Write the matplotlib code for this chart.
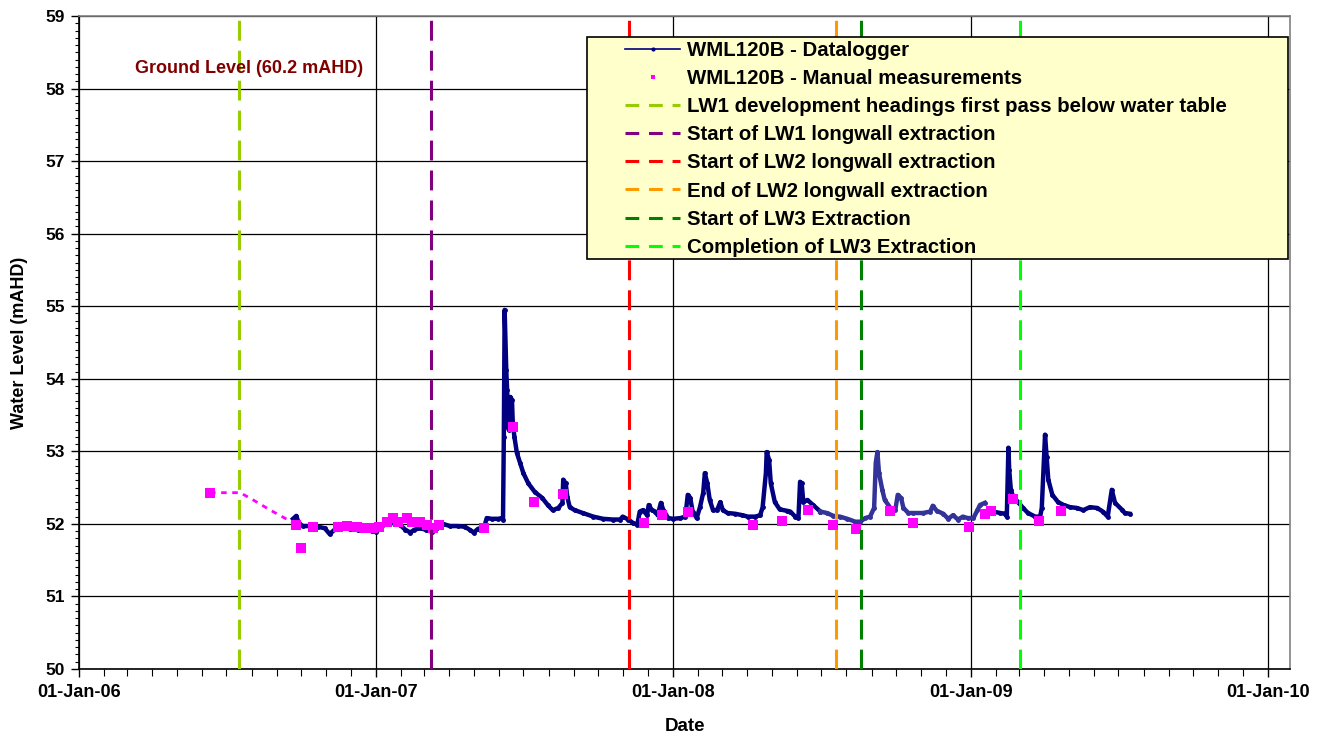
import numpy as np
import pandas as pd
import matplotlib
matplotlib.use('Agg')
import matplotlib.pyplot as plt
import matplotlib.dates as mdates
import matplotlib.ticker as mticker
from matplotlib.lines import Line2D
from matplotlib.patches import Rectangle

plt.rcParams['font.family'] = ['Liberation Sans', 'DejaVu Sans']
plt.rcParams['font.weight'] = 'bold'

BASE = pd.Timestamp('2006-01-01')

# Datalogger series: day offset from 01-Jan-2006, water level (mAHD)
logger_day = [263, 267, 270, 275, 284, 294, 302, 308, 315, 323, 333, 343, 351, 360, 365, 370,
              376, 382, 388, 394, 401, 407, 412, 419, 426, 434, 440, 447, 456, 466, 474, 480,
              485, 490, 498, 501, 507, 515, 520, 521, 522, 523, 525, 526, 528, 530, 532, 533,
              535, 538, 542, 546, 552, 560, 569, 576, 582, 589, 594, 595, 598, 600, 603, 609,
              619, 632, 644, 656, 665, 668, 675, 681, 686, 689, 693, 698, 700, 704, 708, 711,
              715, 718, 724, 730, 739, 745, 748, 751, 754, 759, 763, 767, 769, 772, 775, 779,
              784, 788, 791, 797, 806, 815, 822, 831, 837, 840, 844, 845, 848, 850, 855, 861,
              870, 874, 880, 884, 886, 888, 890, 895, 902, 911, 919, 927, 935, 944, 954, 960,
              966, 972, 977, 979, 981, 983, 987, 990, 997, 1003, 1006, 1010, 1013, 1019, 1025,
              1037, 1046, 1049, 1054, 1062, 1068, 1074, 1080, 1086, 1092, 1099, 1104, 1107, 1113,
              1116, 1123, 1132, 1138, 1140, 1142, 1143, 1145, 1148, 1154, 1160, 1166, 1175, 1181,
              1183, 1187, 1189, 1191, 1196, 1203, 1210, 1218, 1226, 1234, 1242, 1251, 1258, 1264,
              1269, 1273, 1282, 1285, 1291]
logger_level = [52.07, 52.11, 52.01, 51.97, 51.97, 51.96, 51.94, 51.86, 51.93, 51.94, 51.93, 51.92,
                51.92, 51.90, 51.89, 51.93, 52.00, 52.03, 52.00, 51.99, 51.92, 51.88, 51.92, 51.94,
                51.92, 51.89, 51.94, 52.00, 51.97, 51.97, 51.96, 51.92, 51.88, 51.93, 51.96, 52.08,
                52.07, 52.07, 52.08, 52.06, 53.20, 54.95, 54.12, 53.85, 53.30, 53.75, 53.71, 53.39,
                53.20, 52.98, 52.84, 52.70, 52.56, 52.44, 52.36, 52.26, 52.19, 52.22, 52.29, 52.61,
                52.56, 52.37, 52.23, 52.19, 52.15, 52.10, 52.07, 52.06, 52.06, 52.10, 52.06, 52.01,
                51.99, 52.17, 52.19, 52.12, 52.26, 52.19, 52.17, 52.12, 52.29, 52.19, 52.08, 52.07,
                52.08, 52.10, 52.40, 52.36, 52.17, 52.08, 52.23, 52.43, 52.70, 52.56, 52.33, 52.19,
                52.19, 52.30, 52.19, 52.15, 52.14, 52.12, 52.10, 52.10, 52.12, 52.23, 52.70, 52.99,
                52.88, 52.56, 52.30, 52.20, 52.18, 52.17, 52.10, 52.08, 52.58, 52.56, 52.30, 52.33,
                52.26, 52.17, 52.15, 52.11, 52.10, 52.07, 52.03, 52.03, 52.08, 52.10, 52.22, 52.84,
                52.99, 52.70, 52.47, 52.33, 52.22, 52.19, 52.40, 52.36, 52.22, 52.15, 52.15, 52.15,
                52.17, 52.25, 52.18, 52.14, 52.07, 52.12, 52.06, 52.10, 52.08, 52.08, 52.19, 52.26,
                52.29, 52.14, 52.17, 52.15, 52.14, 52.10, 53.05, 52.74, 52.47, 52.37, 52.30, 52.22,
                52.15, 52.10, 52.10, 52.22, 53.23, 52.92, 52.61, 52.40, 52.30, 52.26, 52.23, 52.22,
                52.19, 52.23, 52.22, 52.17, 52.10, 52.47, 52.29, 52.19, 52.15, 52.14]
# portion of the logger record drawn in the lighter blue
light_start_day = 911
light_end_day = 1113

# Manual measurements
manual_day = [161, 267, 273, 288, 318, 329, 342, 351, 361, 369, 378, 386, 392, 403, 409, 419,
              428, 435, 442, 498, 533, 559, 595, 694, 716, 748, 828, 864, 896, 927, 955, 997,
              1025, 1094, 1113, 1121, 1148, 1180, 1207]
manual_level = [52.43, 51.99, 51.67, 51.96, 51.96, 51.97, 51.96, 51.94, 51.94, 51.96, 52.03, 52.08,
                52.03, 52.08, 52.03, 52.03, 51.99, 51.94, 51.99, 51.94, 53.34, 52.30, 52.41, 52.01,
                52.12, 52.17, 51.99, 52.04, 52.19, 51.99, 51.93, 52.18, 52.01, 51.96, 52.14, 52.18,
                52.34, 52.04, 52.18]
# dotted connector of the early manual readings
trend_day = [161, 198, 214, 235, 256, 267]
trend_level = [52.43, 52.43, 52.33, 52.19, 52.06, 51.99]

# Event lines
event_labels = ['LW1 development headings first pass below water table',
                'Start of LW1 longwall extraction',
                'Start of LW2 longwall extraction',
                'End of LW2 longwall extraction',
                'Start of LW3 Extraction',
                'Completion of LW3 Extraction']
event_dates = ['2006-07-17', '2007-03-10', '2007-11-08', '2008-07-19', '2008-08-19', '2009-03-02']
event_colors = ['#99CC00', '#800080', '#FF0000', '#FF9900', '#008000', '#00FF00']

year_ticks = ['2006-01-01', '2007-01-01', '2008-01-01', '2009-01-01', '2010-01-01']

# ---------------------------------------------------------------
fig = plt.figure(figsize=(13.25, 7.36), dpi=100)
ax = fig.add_axes([79 / 1325, 1 - 669 / 736, (1290 - 79) / 1325, (669 - 16) / 736])

ld = BASE + pd.to_timedelta(np.array(logger_day), unit='D')
lv = np.array(logger_level)
days = np.array(logger_day)
m_dark1 = days <= light_start_day
m_light = (days >= light_start_day) & (days <= light_end_day)
m_dark2 = days > light_end_day

navy = '#000080'
for m, c in [(m_dark1, navy), (m_light, '#333399'), (m_dark2, navy)]:
    ax.plot(ld[m], lv[m], color=c, lw=3.2, marker='o', ms=2.5, zorder=3, solid_joinstyle='round')

td = BASE + pd.to_timedelta(np.array(trend_day), unit='D')
ax.plot(td, trend_level, color='#FF00FF', lw=2, linestyle=(0, (2, 2)), zorder=3)

md = BASE + pd.to_timedelta(np.array(manual_day), unit='D')
ax.plot(md, manual_level, linestyle='none', marker='s', ms=7.5, color='#FF00FF',
        markeredgewidth=0, zorder=4)

for d, c in zip(event_dates, event_colors):
    ax.axvline(pd.Timestamp(d), color=c, lw=2.2, linestyle=(0, (6.5, 3.3)), zorder=5)

# axes
ax.set_ylim(50, 59)
ax.set_xlim(pd.Timestamp('2006-01-01'), pd.Timestamp('2010-01-28'))
ax.set_yticks(np.arange(50, 60, 1))
ax.yaxis.set_minor_locator(mticker.MultipleLocator(0.1))
ax.set_xticks([pd.Timestamp(t) for t in year_ticks])
ax.xaxis.set_major_formatter(mdates.DateFormatter('%d-%b-%y'))
ax.xaxis.set_minor_locator(mdates.MonthLocator())
ax.grid(True, which='major', color='black', lw=0.9, zorder=0)
ax.set_axisbelow(True)

ax.tick_params(axis='y', which='major', length=6, width=1, labelsize=12.5, pad=4)
ax.tick_params(axis='y', which='minor', length=3, width=0.8)
ax.tick_params(axis='x', which='major', length=6, width=1, labelsize=13, pad=5)
ax.tick_params(axis='x', which='minor', length=5, width=0.8)
for lab in ax.get_xticklabels() + ax.get_yticklabels():
    lab.set_fontweight('bold')

for s in ['left', 'bottom']:
    ax.spines[s].set_color('black')
    ax.spines[s].set_linewidth(1.2)
for s in ['top', 'right']:
    ax.spines[s].set_color('#808080')
    ax.spines[s].set_linewidth(1.2)

ax.set_ylabel('Water Level (mAHD)', fontsize=13, fontweight='bold', labelpad=13)
ax.set_xlabel('Date', fontsize=13.5, fontweight='bold', labelpad=12)

ax.text(pd.Timestamp('2006-07-29'), 58.28, 'Ground Level (60.2 mAHD)', color='#800000',
        fontsize=13, fontweight='bold', ha='center', va='center', zorder=6)

# legend: frame drawn as a patch, entries drawn without frame
frame = Rectangle((0.4195, 0.6279), 0.9983 - 0.4195, 0.9678 - 0.6279, transform=ax.transAxes,
                  facecolor='#FFFFCC', edgecolor='black', lw=1.2, zorder=9)
ax.add_patch(frame)

handles = [Line2D([], [], color=navy, lw=1.2, marker='o', ms=2),
           Line2D([], [], color='#FF00FF', linestyle='none', marker='s', ms=2.5, markeredgewidth=0)]
for c in event_colors:
    handles.append(Line2D([], [], color=c, lw=2.2, linestyle=(0, (4.5, 3.2))))
labels = ['WML120B - Datalogger', 'WML120B - Manual measurements'] + event_labels
leg = ax.legend(handles, labels, loc='upper left', bbox_to_anchor=(0.4509, 0.9622),
                fontsize=14.7, frameon=False, handlelength=2.7, handletextpad=0.35,
                labelspacing=0.45, borderpad=0, borderaxespad=0)
leg.set_zorder(10)
for t in leg.get_texts():
    t.set_fontweight('bold')

fig.savefig('out.png', dpi=100)
